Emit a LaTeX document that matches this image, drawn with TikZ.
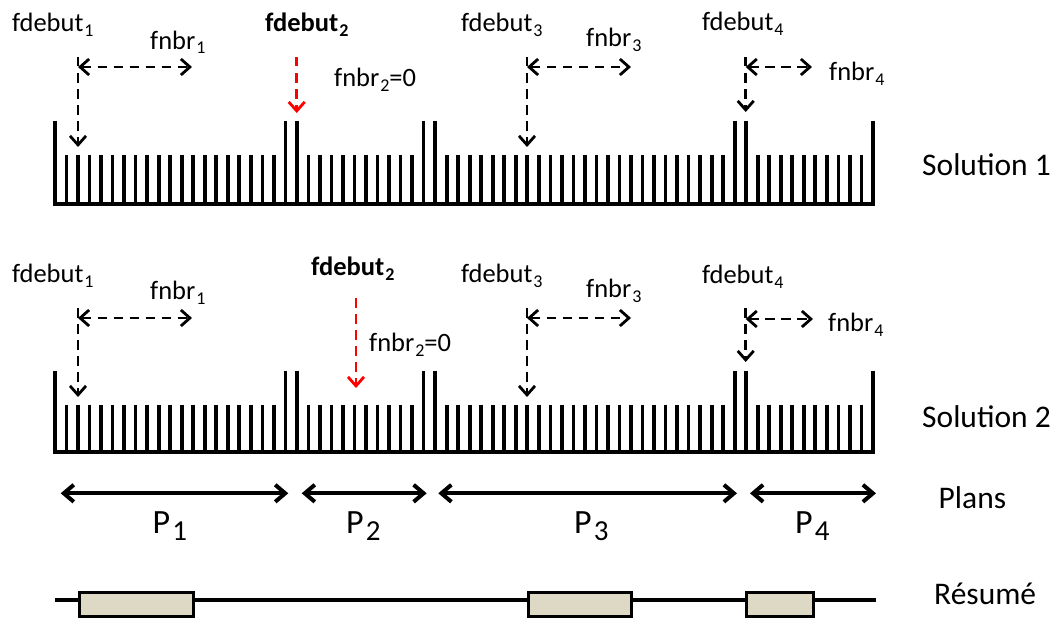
\documentclass[tikz,border=0pt]{standalone}
\usepackage{fontspec}
\setmainfont{Carlito}
\usetikzlibrary{arrows.meta}

\definecolor{boxfill}{HTML}{DDD9C4}
\definecolor{markred}{HTML}{FF0000}

\newcommand\lblfont{\fontsize{26.5}{32}\selectfont}
\newcommand\sidefont{\fontsize{31.5}{38}\selectfont}
\newcommand\idx[1]{\kern1pt\raisebox{-5pt}{\fontsize{18}{20}\selectfont #1}}
\newcommand\pidx[1]{\kern2pt\raisebox{-7pt}{\fontsize{29}{34}\selectfont #1}}

\tikzset{
  bar/.style={line width=3.7pt},
  baseline rule/.style={line width=4pt},
  drop/.style={line width=2.8pt, dash pattern=on 9.5pt off 6.5pt,
    -{Straight Barb[length=9pt,width=16pt]}},
  span/.style={line width=2.8pt, dash pattern=on 9.5pt off 6.5pt,
    {Straight Barb[length=9pt,width=16pt]}-{Straight Barb[length=9pt,width=16pt]}},
  plan/.style={line width=4pt,
    {Straight Barb[length=10pt,width=17pt]}-{Straight Barb[length=10pt,width=17pt]}},
  tag/.style={anchor=base west, inner sep=0pt, font=\lblfont},
  sidelbl/.style={anchor=base west, inner sep=0pt, font=\sidefont},
  plbl/.style={anchor=base west, inner sep=0pt, font=\fontsize{34}{40}\selectfont},
  summary/.style={draw, line width=3pt, fill=boxfill},
}

\begin{document}
\begin{tikzpicture}[x=1pt, y=-1pt]
\useasboundingbox (0,0) rectangle (1057,618);

% ---- comb of bars for both solutions (short bars, then tall separators)
\foreach \tt/\st/\bs in {120.5/155/204, 370.5/404.5/451.5}{
  \foreach \i in {0,...,71}
    \draw[bar] ({55+11.52*\i}, \st) -- ({55+11.52*\i}, \bs);
  \foreach \i in {0,20,21,32,33,59,60,71}
    \draw[bar] ({55+11.52*\i}, \tt) -- ({55+11.52*\i}, \bs);
  \draw[baseline rule] (53.2, \bs) -- (874.7, \bs);
}

% ---- Solution 1 markers
\coordinate (a1top) at (78,57);     \coordinate (a1tip) at (78,147);
\coordinate (a1l) at (78,67);       \coordinate (a1r) at (192,67);
\coordinate (a2top) at (296.7,57);  \coordinate (a2tip) at (296.7,113);
\coordinate (a3top) at (527,57);    \coordinate (a3tip) at (527,147);
\coordinate (a3l) at (527,67);      \coordinate (a3r) at (631,67);
\coordinate (a4top) at (745.7,57);  \coordinate (a4tip) at (745.7,112);
\coordinate (a4l) at (745.7,67);    \coordinate (a4r) at (812,67);

\draw[drop] (a1top) -- (a1tip);
\draw[span] (a1l) -- (a1r);
\draw[drop, markred] (a2top) -- (a2tip);
\draw[drop] (a3top) -- (a3tip);
\draw[span] (a3l) -- (a3r);
\draw[drop] (a4top) -- (a4tip);
\draw[span] (a4l) -- (a4r);

\node[tag] (t1d1) at (12,32)  {fdebut\idx{1}};
\node[tag] (t1n1) at (150,49) {fnbr\idx{1}};
\node[tag] (t1d2) at (265,32) {\bfseries fdebut\idx{2}};
\node[tag] (t1n2) at (334,86) {fnbr\idx{2}=0};
\node[tag] (t1d3) at (461,32) {fdebut\idx{3}};
\node[tag] (t1n3) at (586,47) {fnbr\idx{3}};
\node[tag] (t1d4) at (702,31) {fdebut\idx{4}};
\node[tag] (t1n4) at (829,81) {fnbr\idx{4}};
\node[sidelbl] (sol1) at (922,175) {Solution 1};

% ---- Solution 2 markers
\coordinate (b1top) at (78,308);    \coordinate (b1tip) at (78,397);
\coordinate (b1l) at (78,318);      \coordinate (b1r) at (192,318);
\coordinate (b2top) at (356,298);   \coordinate (b2tip) at (356,388);
\coordinate (b3top) at (527,308);   \coordinate (b3tip) at (527,397);
\coordinate (b3l) at (527,318);     \coordinate (b3r) at (631,318);
\coordinate (b4top) at (745.7,308); \coordinate (b4tip) at (745.7,362);
\coordinate (b4l) at (745.7,319);   \coordinate (b4r) at (813,319);

\draw[drop] (b1top) -- (b1tip);
\draw[span] (b1l) -- (b1r);
\draw[drop, markred] (b2top) -- (b2tip);
\draw[drop] (b3top) -- (b3tip);
\draw[span] (b3l) -- (b3r);
\draw[drop] (b4top) -- (b4tip);
\draw[span] (b4l) -- (b4r);

\node[tag] (t2d1) at (12,282)  {fdebut\idx{1}};
\node[tag] (t2n1) at (150,299) {fnbr\idx{1}};
\node[tag] (t2d2) at (311,275) {\bfseries fdebut\idx{2}};
\node[tag] (t2n2) at (369,351) {fnbr\idx{2}=0};
\node[tag] (t2d3) at (461,282) {fdebut\idx{3}};
\node[tag] (t2n3) at (586,297) {fnbr\idx{3}};
\node[tag] (t2d4) at (702,283) {fdebut\idx{4}};
\node[tag] (t2n4) at (828,331) {fnbr\idx{4}};
\node[sidelbl] (sol2) at (922,427) {Solution 2};

% ---- Plans
\coordinate (p1a) at (60.7,493.3);  \coordinate (p1b) at (288.3,493.3);
\coordinate (p2a) at (301.7,493.3); \coordinate (p2b) at (426.7,493.3);
\coordinate (p3a) at (438.3,493.3); \coordinate (p3b) at (737,493.3);
\coordinate (p4a) at (750,493.3);   \coordinate (p4b) at (876,493.3);
\draw[plan] (p1a) -- (p1b);
\draw[plan] (p2a) -- (p2b);
\draw[plan] (p3a) -- (p3b);
\draw[plan] (p4a) -- (p4b);

\node[plbl] (P1) at (152.5,533) {P\pidx{1}};
\node[plbl] (P2) at (346,533)   {P\pidx{2}};
\node[plbl] (P3) at (574,533)   {P\pidx{3}};
\node[plbl] (P4) at (795,533)   {P\pidx{4}};
\node[sidelbl] (plans) at (938.5,508) {Plans};

% ---- Résumé
\coordinate (rl) at (55,600); \coordinate (rr) at (876,600);
\draw[line width=3.5pt] (rl) -- (rr);
\node[summary, minimum width=114pt, minimum height=24pt, inner sep=0pt] (r1) at (136,604) {};
\node[summary, minimum width=103pt, minimum height=24pt, inner sep=0pt] (r2) at (579.5,604) {};
\node[summary, minimum width=67pt,  minimum height=24pt, inner sep=0pt] (r3) at (779.5,604) {};
\node[sidelbl] (resume) at (934,604) {Résumé};
\end{tikzpicture}
\end{document}
